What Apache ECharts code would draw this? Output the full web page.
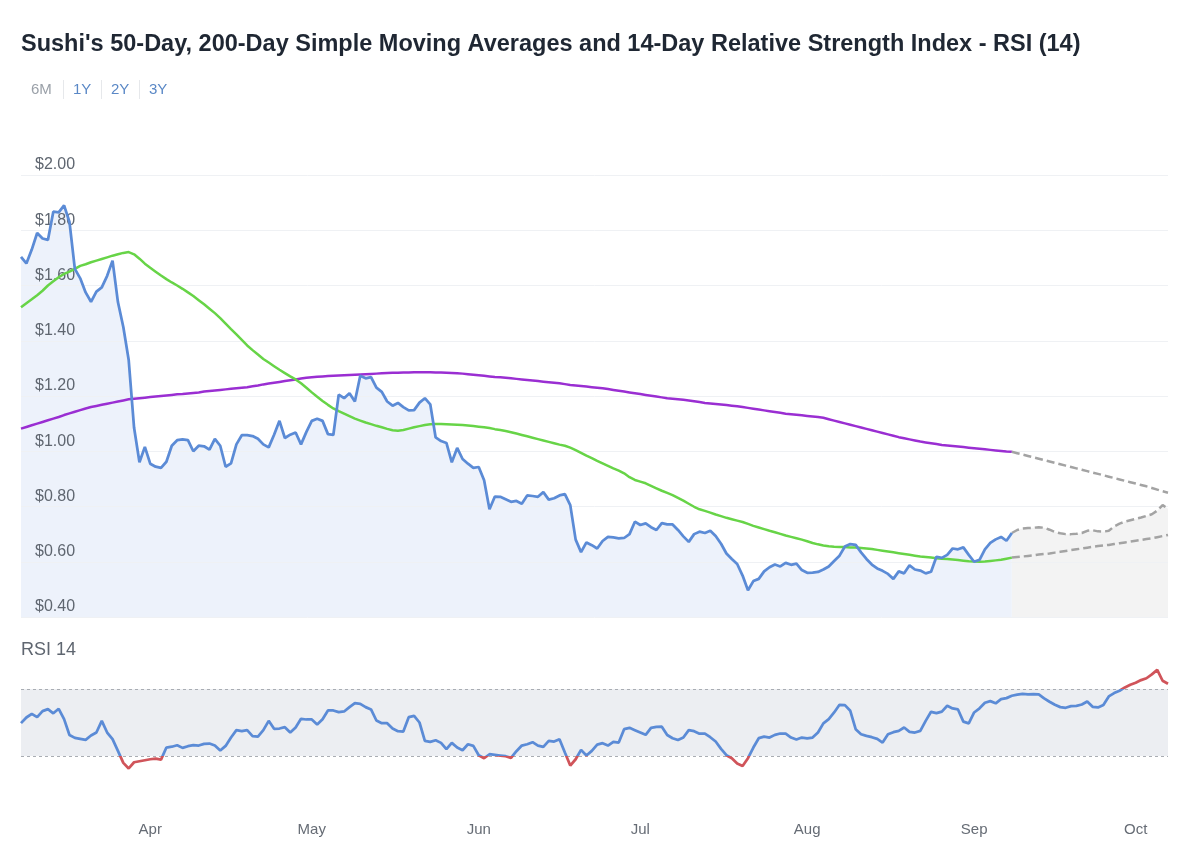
<!DOCTYPE html>
<html>
<head>
<meta charset="utf-8">
<script src="https://cdn.jsdelivr.net/npm/echarts@6/dist/echarts.min.js"></script>
<style>
html,body{margin:0;padding:0;background:#fff;}
#chart{width:1200px;height:859px;}
</style>
</head>
<body>
<div id="chart"></div>
<script>
// ---- DATA ----
const startDate = '2024-03-08';
const dayCount = 214; // Mar 8 .. Oct 7
const monthNames = ['Jan','Feb','Mar','Apr','May','Jun','Jul','Aug','Sep','Oct','Nov','Dec'];
const yTicks = [0.4, 0.6, 0.8, 1.0, 1.2, 1.4, 1.6, 1.8, 2.0];

// Daily price, Mar 8 .. Sep 8
const price = [
1.704,1.68,1.73,1.79,1.77,1.765,1.867,1.865,1.89,1.83,
1.66,1.626,1.575,1.541,1.578,1.593,1.635,1.69,1.54,1.45,
1.33,1.085,0.96,1.016,0.955,0.944,0.94,0.962,1.02,1.04,
1.043,1.04,1.0,1.02,1.018,1.006,1.045,1.02,0.944,0.956,
1.025,1.058,1.058,1.055,1.045,1.025,1.014,1.06,1.11,1.048,
1.06,1.068,1.025,1.07,1.11,1.118,1.11,1.062,1.059,1.205,
1.192,1.21,1.18,1.273,1.264,1.268,1.23,1.215,1.18,1.165,
1.175,1.16,1.148,1.149,1.176,1.192,1.17,1.05,1.037,1.03,
0.96,1.012,0.972,0.955,0.94,0.943,0.895,0.79,0.836,0.835,
0.826,0.817,0.82,0.81,0.84,0.838,0.835,0.852,0.825,0.83,
0.84,0.845,0.805,0.68,0.635,0.67,0.66,0.648,0.675,0.69,
0.688,0.685,0.686,0.7,0.745,0.733,0.739,0.725,0.715,0.74,
0.735,0.735,0.715,0.692,0.672,0.70,0.709,0.704,0.712,0.693,
0.665,0.63,0.61,0.592,0.55,0.497,0.53,0.538,0.565,0.58,
0.59,0.583,0.596,0.589,0.593,0.57,0.56,0.561,0.563,0.572,
0.583,0.603,0.622,0.655,0.664,0.661,0.634,0.61,0.59,0.576,
0.567,0.556,0.538,0.565,0.558,0.587,0.572,0.568,0.558,0.564,
0.618,0.614,0.625,0.648,0.645,0.652,0.625,0.60,0.607,0.645,
0.668,0.681,0.69,0.676,0.704
];
// Price forecast, Sep 8 .. Oct 7
const priceForecast = [
0.704,0.715,0.72,0.722,0.723,0.725,0.723,0.716,0.708,0.703,
0.70,0.70,0.701,0.704,0.712,0.714,0.71,0.709,0.712,0.728,
0.738,0.745,0.75,0.755,0.76,0.766,0.772,0.785,0.805,0.792
];
// 50-day SMA, Mar 8 .. Sep 8
const sma50 = [
1.521,1.536,1.550,1.565,1.581,1.600,1.615,1.630,1.642,1.650,
1.660,1.671,1.677,1.684,1.690,1.696,1.702,1.708,1.713,1.718,
1.721,1.713,1.697,1.679,1.664,1.650,1.636,1.623,1.611,1.600,
1.588,1.575,1.562,1.547,1.532,1.516,1.500,1.482,1.462,1.442,
1.423,1.403,1.383,1.366,1.350,1.334,1.321,1.308,1.295,1.283,
1.271,1.260,1.246,1.230,1.213,1.197,1.182,1.168,1.155,1.145,
1.136,1.127,1.118,1.111,1.104,1.098,1.092,1.087,1.081,1.076,
1.074,1.077,1.082,1.087,1.091,1.095,1.098,1.099,1.099,1.098,
1.097,1.096,1.095,1.093,1.091,1.089,1.087,1.084,1.080,1.077,
1.073,1.069,1.064,1.059,1.054,1.049,1.044,1.039,1.034,1.029,
1.024,1.020,1.013,1.004,0.994,0.984,0.975,0.965,0.956,0.947,
0.938,0.930,0.920,0.906,0.896,0.890,0.884,0.875,0.866,0.857,
0.849,0.841,0.831,0.821,0.810,0.799,0.790,0.784,0.778,0.771,
0.765,0.759,0.754,0.749,0.744,0.737,0.730,0.724,0.718,0.712,
0.707,0.701,0.695,0.690,0.685,0.680,0.674,0.668,0.663,0.659,
0.656,0.654,0.653,0.653,0.652,0.652,0.650,0.648,0.646,0.643,
0.640,0.637,0.634,0.631,0.628,0.625,0.622,0.619,0.617,0.615,
0.613,0.611,0.610,0.608,0.606,0.604,0.602,0.601,0.600,0.601,
0.603,0.605,0.607,0.611,0.615
];
const sma50Forecast = [
0.615,0.617,0.619,0.621,0.623,0.626,0.628,0.630,0.633,0.636,
0.639,0.642,0.645,0.648,0.651,0.654,0.657,0.659,0.661,0.664,
0.667,0.670,0.673,0.676,0.679,0.682,0.685,0.689,0.693,0.697
];
// 200-day SMA, Mar 8 .. Sep 8
const sma200 = [
1.082,1.088,1.094,1.100,1.106,1.112,1.118,1.124,1.131,1.137,
1.143,1.149,1.155,1.160,1.164,1.168,1.172,1.176,1.180,1.184,
1.188,1.190,1.192,1.194,1.196,1.198,1.200,1.202,1.204,1.206,
1.207,1.209,1.211,1.213,1.216,1.218,1.220,1.222,1.224,1.226,
1.228,1.230,1.232,1.235,1.238,1.242,1.245,1.248,1.251,1.254,
1.257,1.260,1.263,1.266,1.268,1.270,1.271,1.272,1.273,1.274,
1.275,1.276,1.277,1.278,1.279,1.280,1.281,1.282,1.283,1.284,
1.284,1.285,1.285,1.286,1.286,1.286,1.286,1.285,1.285,1.284,
1.283,1.282,1.281,1.279,1.277,1.275,1.273,1.271,1.269,1.268,
1.266,1.264,1.262,1.260,1.258,1.256,1.254,1.252,1.250,1.248,
1.246,1.243,1.240,1.238,1.236,1.234,1.232,1.230,1.228,1.225,
1.222,1.219,1.216,1.213,1.210,1.207,1.204,1.201,1.198,1.195,
1.192,1.190,1.188,1.186,1.184,1.181,1.178,1.175,1.173,1.171,
1.169,1.167,1.165,1.163,1.160,1.157,1.154,1.151,1.148,1.145,
1.142,1.139,1.136,1.134,1.132,1.130,1.128,1.126,1.124,1.121,
1.116,1.111,1.106,1.101,1.096,1.091,1.086,1.081,1.076,1.071,
1.066,1.061,1.056,1.051,1.047,1.043,1.039,1.035,1.032,1.029,
1.026,1.023,1.021,1.019,1.017,1.015,1.013,1.011,1.009,1.007,
1.005,1.003,1.001,0.999,0.998
];
const sma200Forecast = [
0.998,0.993,0.988,0.983,0.978,0.973,0.968,0.963,0.958,0.953,
0.948,0.943,0.938,0.933,0.928,0.923,0.918,0.913,0.908,0.903,
0.898,0.893,0.888,0.883,0.878,0.873,0.867,0.861,0.855,0.850
];
// RSI(14), Mar 8 .. Oct 7
const rsi = [
49.6,53,55.2,53.2,56.8,58,55.5,58.2,52,42.5,
40.8,40.2,39.6,42.2,44,51,44,40,33,25.8,
22.5,26.2,26.8,27.4,28,28.4,27.8,35,35.5,36.4,
34.8,35.8,36.4,36.2,37.2,37.4,36.2,33.2,36,41,
45.4,44.8,45.4,41.8,41.6,45.4,51,46.2,46.4,47.2,
44,47,52.2,51.8,51.8,48.8,52,57.2,57.2,56.2,
56.6,59.2,61.6,61.2,59.2,57.8,51.2,49.6,49.6,46.4,
44.8,44.6,53.2,54,50,39,38.4,39.4,37.8,34,
37.8,35,33.4,37,36,30.4,28.6,31,30.6,30.2,
29.8,28.8,32.8,36.2,37,38.2,36.2,35.4,39,38.6,
40,32,24.2,28,33.6,30.2,33,36.8,37.6,36.2,
38.4,38,46,46.8,45.4,44,42.6,46.8,47.4,47.5,
42.5,40.6,39.5,41,45.4,44.8,43.3,43.4,41.2,38.6,
34.2,30.4,28.6,25.5,24,28.6,35,40.6,41.5,41,
42.6,43.4,43.3,41,39.8,41,40.5,41,44,49.5,
52,56,60.6,60.4,57,46,43,42,41.2,40.2,
38,43,44.2,45,47,44.4,44,45,51,56.4,
55.6,56.5,60,58.4,57.8,50.5,49.5,56,58.5,61.8,
62.8,61.5,64,64.6,66,66.7,67.2,66.8,67,66.8,
64.4,62.4,60.6,59.2,58.8,59.8,60,60.8,62.6,59.4,
59,60.5,65.6,67.6,69,71,72.6,73.8,75.4,76.5,
78.8,81.5,75,73.2
];

// ---- BUILD ----
function pad2(n){return n<10?'0'+n:''+n;}
const dates = [];
{
  const d0 = new Date(startDate + 'T00:00:00Z');
  for (let i = 0; i < dayCount; i++) {
    const d = new Date(d0.getTime() + i * 86400000);
    dates.push(d.getUTCFullYear() + '-' + pad2(d.getUTCMonth()+1) + '-' + pad2(d.getUTCDate()));
  }
}
function fullHist(arr){ return arr.concat(new Array(dayCount - arr.length).fill(null)); }
function fullFc(arr){ return new Array(dayCount - arr.length).fill(null).concat(arr); }

const FONT = '"Liberation Sans", Arial, Helvetica, sans-serif';
const BLUE = '#5b8bd6';
const GREEN = '#67d447';
const PURPLE = '#9a2ed2';
const RED = '#d0545a';
const GREY_DASH = '#a3a3a3';

const monthLabelInterval = (idx, val) => val.slice(8) === '01';
const monthLabelFormat = (val) => monthNames[parseInt(val.slice(5,7),10)-1];

const chart = echarts.init(document.getElementById('chart'), null, {renderer:'canvas'});
chart.setOption({
  animation: false,
  backgroundColor: '#ffffff',
  textStyle: {fontFamily: FONT},
  title: {
    text: "Sushi's 50-Day, 200-Day Simple Moving Averages and 14-Day Relative Strength Index - RSI (14)",
    left: 21, top: 33, padding: 0,
    textStyle: {fontSize: 23.5, fontWeight: 'bold', color: '#1f2733', fontFamily: FONT}
  },
  graphic: [
    {type:'text', left: 31, top: 82, style:{text:'6M', fill:'#9aa0a8', font:'15px ' + FONT}},
    {type:'rect', shape:{x:63, y:80, width:1, height:19}, style:{fill:'#e6e8eb'}},
    {type:'text', left: 73, top: 82, style:{text:'1Y', fill:'#5a88c6', font:'15px ' + FONT}},
    {type:'rect', shape:{x:101, y:80, width:1, height:19}, style:{fill:'#e6e8eb'}},
    {type:'text', left: 111, top: 82, style:{text:'2Y', fill:'#5a88c6', font:'15px ' + FONT}},
    {type:'rect', shape:{x:139, y:80, width:1, height:19}, style:{fill:'#e6e8eb'}},
    {type:'text', left: 149, top: 82, style:{text:'3Y', fill:'#5a88c6', font:'15px ' + FONT}},
    {type:'text', left: 21, top: 641, style:{text:'RSI 14', fill:'#5f6670', font:'18px ' + FONT}}
  ],
  grid: [
    {left: 21, right: 32, top: 175, height: 442},
    {left: 21, right: 32, top: 639, height: 167}
  ],
  xAxis: [
    {type:'category', gridIndex:0, data: dates, boundaryGap:false,
     axisLine:{show:false}, axisTick:{show:false}, axisLabel:{show:false}, splitLine:{show:false}},
    {type:'category', gridIndex:1, data: dates, boundaryGap:false,
     axisLine:{show:false}, axisTick:{show:false}, splitLine:{show:false},
     axisLabel:{interval: monthLabelInterval, formatter: monthLabelFormat, fontSize:15, color:'#666c75', margin:16, fontFamily: FONT}}
  ],
  yAxis: [
    {type:'value', gridIndex:0, min:0.4, max:2.0, interval:0.2, z:1,
     axisLine:{show:false}, axisTick:{show:false},
     splitLine:{lineStyle:{color:'#eff1f4', width:1}},
     axisLabel:{inside:true, margin:14, fontSize:16, color:'#5f6670', verticalAlign:'bottom',
       padding:[0,0,2,0], fontFamily: FONT,
       formatter: (v) => '$' + v.toFixed(2)}},
    {type:'value', gridIndex:1, min:0, max:100,
     axisLine:{show:false}, axisTick:{show:false}, axisLabel:{show:false}, splitLine:{show:false}}
  ],
  visualMap: {
    type:'piecewise', show:false, seriesIndex: 8, dimension: 1,
    pieces:[{lt:30, color:RED},{gte:30, lte:70, color:BLUE},{gt:70, color:RED}]
  },
  series: [
    {name:'Price forecast area', type:'line', xAxisIndex:0, yAxisIndex:0, data: fullFc(priceForecast),
     showSymbol:false, symbol:'none', lineStyle:{width:0, opacity:0},
     areaStyle:{color:'#f3f3f3', opacity:1}, z:0},
    {name:'Price area', type:'line', xAxisIndex:0, yAxisIndex:0, data: fullHist(price),
     showSymbol:false, symbol:'none', lineStyle:{width:0, opacity:0},
     areaStyle:{color:'#edf2fb', opacity:1}, z:0},
    {name:'Price forecast', type:'line', xAxisIndex:0, yAxisIndex:0, data: fullFc(priceForecast),
     showSymbol:false, symbol:'none', lineStyle:{color:GREY_DASH, width:2.5, type:[8,4]}, z:3},
    {name:'200-Day SMA', type:'line', xAxisIndex:0, yAxisIndex:0, data: fullHist(sma200),
     showSymbol:false, symbol:'none', lineStyle:{color:PURPLE, width:2.5}, z:3},
    {name:'200-Day forecast', type:'line', xAxisIndex:0, yAxisIndex:0, data: fullFc(sma200Forecast),
     showSymbol:false, symbol:'none', lineStyle:{color:GREY_DASH, width:2.5, type:[8,4]}, z:3},
    {name:'50-Day SMA', type:'line', xAxisIndex:0, yAxisIndex:0, data: fullHist(sma50),
     showSymbol:false, symbol:'none', lineStyle:{color:GREEN, width:2.5}, z:4},
    {name:'50-Day forecast', type:'line', xAxisIndex:0, yAxisIndex:0, data: fullFc(sma50Forecast),
     showSymbol:false, symbol:'none', lineStyle:{color:GREY_DASH, width:2.5, type:[8,4]}, z:3},
    {name:'Price', type:'line', xAxisIndex:0, yAxisIndex:0, data: fullHist(price),
     showSymbol:false, symbol:'none', lineStyle:{color:BLUE, width:2.75}, z:5},
    {name:'RSI 14', type:'line', xAxisIndex:1, yAxisIndex:1, data: rsi,
     showSymbol:false, symbol:'none', lineStyle:{width:2.75}, z:5,
     markArea:{silent:true, itemStyle:{color:'#eceef2'}, data:[[{yAxis:30},{yAxis:70}]]},
     markLine:{silent:true, symbol:['none','none'], label:{show:false},
       lineStyle:{color:'#a9adb3', width:1, type:[3,3]}, data:[{yAxis:30},{yAxis:70}]}}
  ]
});
</script>
</body>
</html>
